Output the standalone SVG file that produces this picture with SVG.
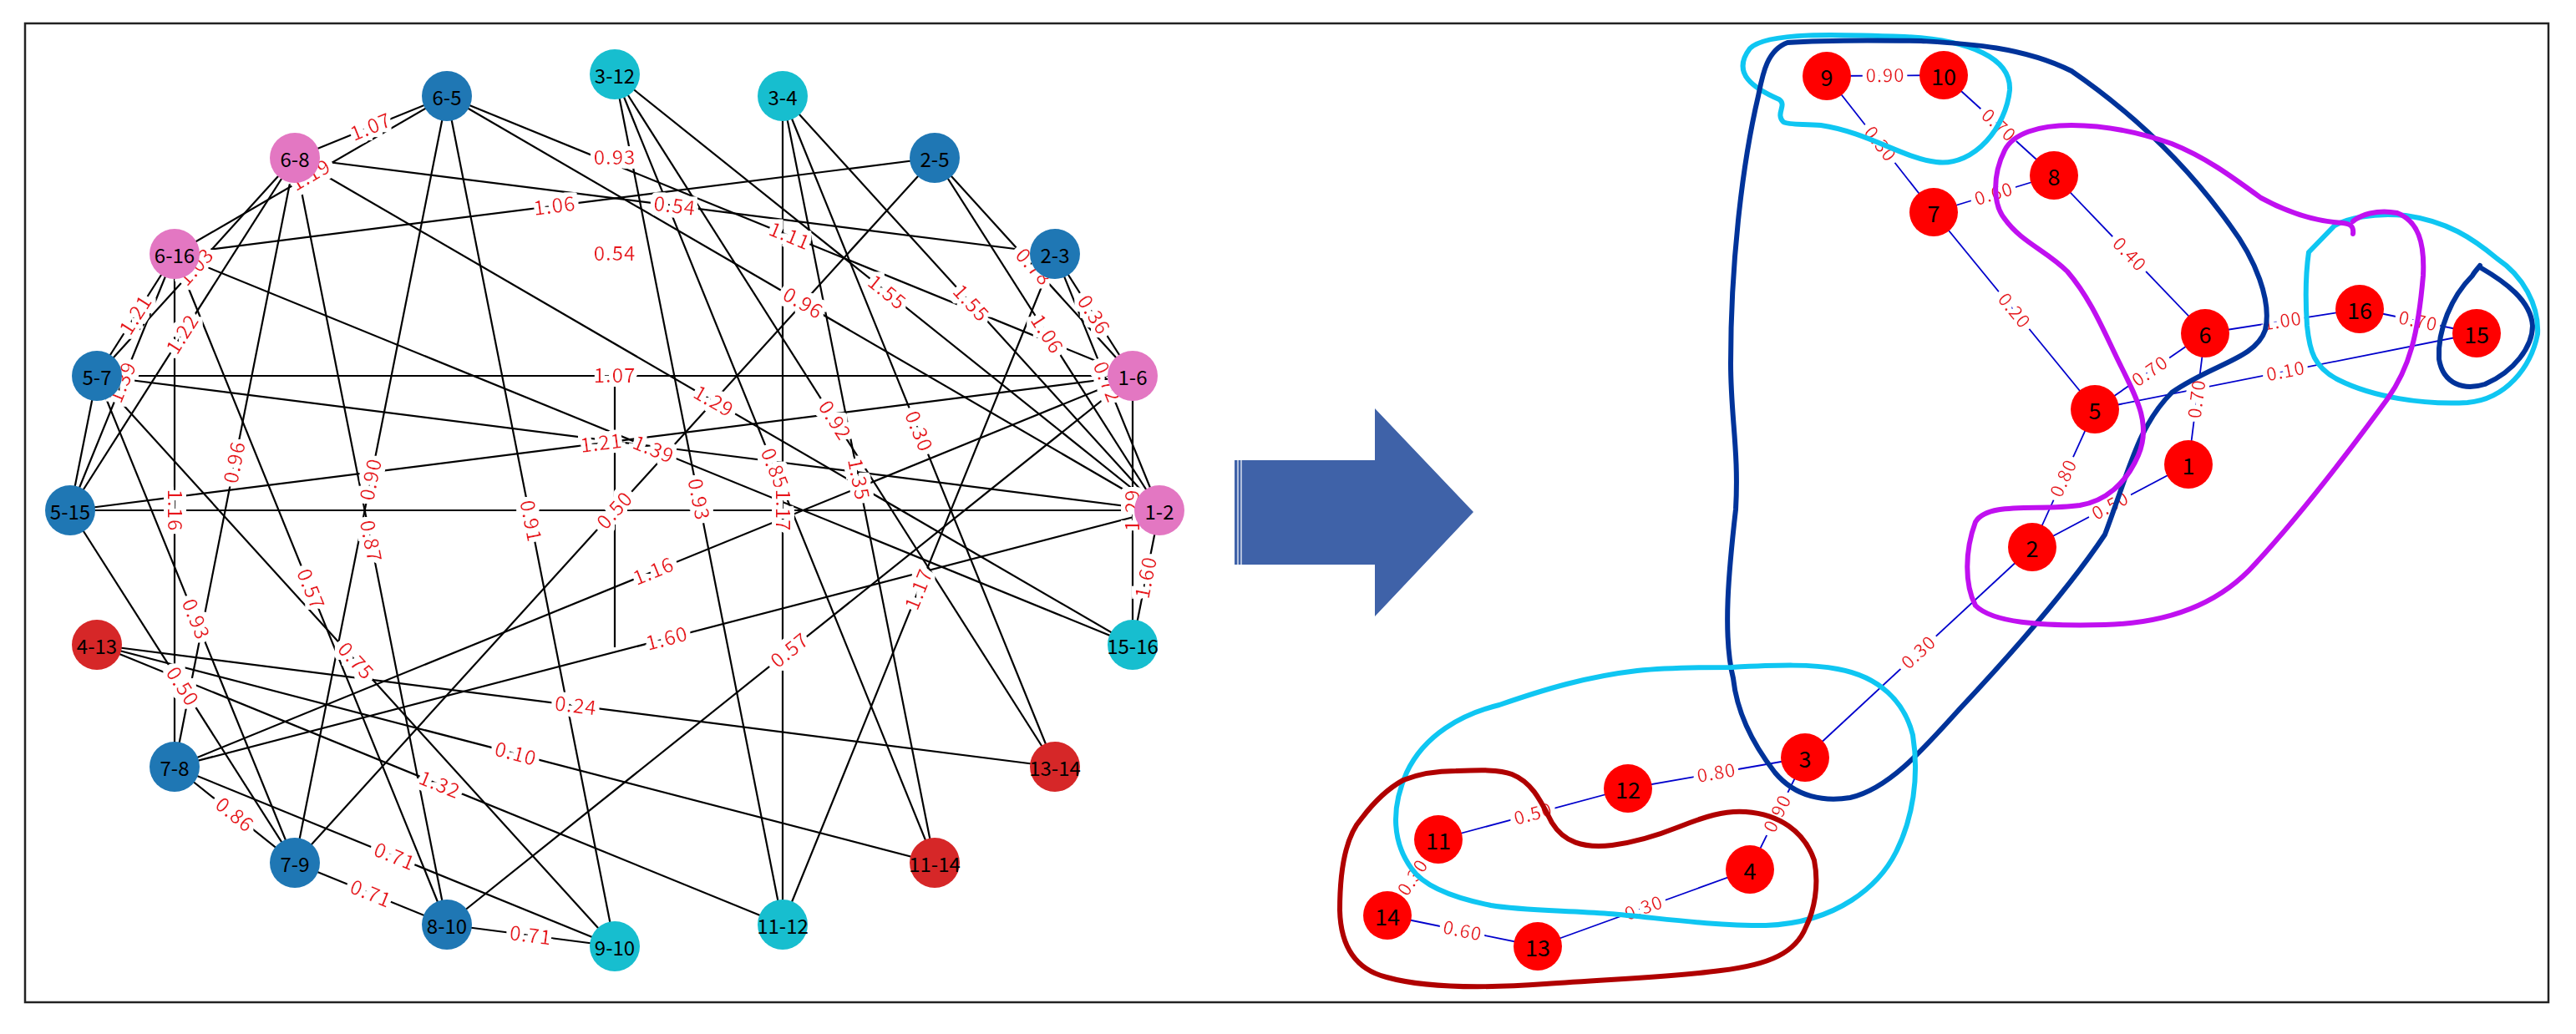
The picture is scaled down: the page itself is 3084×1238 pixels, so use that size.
<svg xmlns="http://www.w3.org/2000/svg" xmlns:xlink="http://www.w3.org/1999/xlink" width="3084" height="1238" viewBox="0 0 3084 1238">
<defs>
<filter id="halo" x="-20%" y="-20%" width="140%" height="140%">
<feMorphology in="SourceAlpha" operator="dilate" radius="5" result="d"/>
<feFlood flood-color="#fff"/>
<feComposite in2="d" operator="in" result="w"/>
<feMerge><feMergeNode in="w"/><feMergeNode in="SourceGraphic"/></feMerge>
</filter>
</defs>
<style>
.e{stroke:#000;stroke-width:2.2;fill:none}
.re{stroke:#0000cc;stroke-width:1.8;fill:none}
.lb{font-family:"Noto Sans CJK SC","DejaVu Sans",sans-serif;font-size:24px;letter-spacing:1px;fill:#e8141c;filter:url(#halo)}
.rl{font-family:"Noto Sans CJK SC","DejaVu Sans",sans-serif;font-size:22px;letter-spacing:1px;fill:#e8141c;filter:url(#halo)}
.nt{font-family:"Noto Sans CJK SC","DejaVu Sans",sans-serif;font-size:24px;fill:#000;text-anchor:middle;dominant-baseline:central}
.rt{font-family:"Noto Sans CJK SC","DejaVu Sans",sans-serif;font-size:27px;fill:#000;text-anchor:middle;dominant-baseline:central}
.bl{fill:#1f77b4}.cy{fill:#17becf}.pk{fill:#e377c2}.rd{fill:#d62728}.rn{fill:#ff0000}
.h{fill:none;stroke-width:6;stroke-linecap:round;stroke-linejoin:round}
</style>
<rect x="0" y="0" width="3084" height="1238" fill="#fff"/>
<rect x="30" y="28" width="3021" height="1172" fill="none" stroke="#222" stroke-width="2.5"/>

<g id="connectors">
<path id="e1" class="e" d="M353 189 L535 115"/>
<path id="e2" class="e" d="M209 304 L535 115"/>
<path id="e3" class="e" d="M209 304 L1119 189"/>
<path id="e4" class="e" d="M116 450 L353 189"/>
<path id="e5" class="e" d="M116 450 L209 304"/>
<path id="e6" class="e" d="M84 611 L353 189"/>
<path id="e7" class="e" d="M84 611 L209 304"/>
<path id="e8" class="e" d="M116 450 L1356 450"/>
<path id="e9" class="e" d="M84 611 L1356 450"/>
<path id="e10" class="e" d="M209 918 L353 189"/>
<path id="e11" class="e" d="M353 1033 L535 115"/>
<path id="e12" class="e" d="M209 304 L209 918"/>
<path id="e13" class="e" d="M535 115 L736 1133"/>
<path id="e14" class="e" d="M353 1033 L1119 189"/>
<path id="e15" class="e" d="M353 189 L1263 304"/>
<path id="e16" class="e" d="M535 115 L1356 450"/>
<path id="e17" class="e" d="M736 89 L1388 611"/>
<path id="e18" class="e" d="M937 115 L1388 611"/>
<path id="e19" class="e" d="M1119 189 L1356 450"/>
<path id="e20" class="e" d="M1263 304 L1356 450"/>
<path id="e21" class="e" d="M1119 189 L1388 611"/>
<path id="e22" class="e" d="M1263 304 L1388 611"/>
<path id="e23" class="e" d="M535 115 L1388 611"/>
<path id="e24" class="e" d="M353 189 L1356 772"/>
<path id="e25" class="e" d="M736 89 L1263 918"/>
<path id="e26" class="e" d="M937 115 L1263 918"/>
<path id="e27" class="e" d="M209 304 L1356 772"/>
<path id="e28" class="e" d="M736 89 L1119 1033"/>
<path id="e29" class="e" d="M937 115 L1119 1033"/>
<path id="e30" class="e" d="M736 89 L937 1107"/>
<path id="e31" class="e" d="M937 115 L937 1107"/>
<path id="e32" class="e" d="M1356 772 L1356 450"/>
<path id="e33" class="e" d="M1356 772 L1388 611"/>
<path id="e34" class="e" d="M353 189 L535 1107"/>
<path id="e35" class="e" d="M209 304 L535 1107"/>
<path id="e36" class="e" d="M116 450 L353 1033"/>
<path id="e37" class="e" d="M116 450 L736 1133"/>
<path id="e38" class="e" d="M84 611 L353 1033"/>
<path id="e39" class="e" d="M209 918 L353 1033"/>
<path id="e40" class="e" d="M209 918 L736 1133"/>
<path id="e41" class="e" d="M353 1033 L535 1107"/>
<path id="e42" class="e" d="M535 1107 L736 1133"/>
<path id="e43" class="e" d="M116 772 L937 1107"/>
<path id="e44" class="e" d="M116 772 L1119 1033"/>
<path id="e45" class="e" d="M116 772 L1263 918"/>
<path id="e46" class="e" d="M209 918 L1356 450"/>
<path id="e47" class="e" d="M209 918 L1388 611"/>
<path id="e48" class="e" d="M535 1107 L1356 450"/>
<path id="e49" class="e" d="M937 1107 L1263 304"/>
<path id="e50" class="e" d="M84 611 L1388 611"/>
<path id="e51" class="e" d="M116 450 L1388 611"/>
<path id="e52" class="e" d="M84 611 L116 450"/>
<path id="e53" class="e" d="M736 451 L736 775"/>

<path id="r1" class="re" d="M2187 91 L2327 90"/>
<path id="r2" class="re" d="M2327 90 L2459 210"/>
<path id="r3" class="re" d="M2187 91 L2315 254"/>
<path id="r4" class="re" d="M2315 254 L2459 210"/>
<path id="r5" class="re" d="M2459 210 L2640 399"/>
<path id="r6" class="re" d="M2315 254 L2508 490"/>
<path id="r7" class="re" d="M2508 490 L2640 399"/>
<path id="r8" class="re" d="M2640 399 L2825 370"/>
<path id="r9" class="re" d="M2825 370 L2965 399"/>
<path id="r10" class="re" d="M2508 490 L2965 399"/>
<path id="r11" class="re" d="M2620 556 L2640 399"/>
<path id="r12" class="re" d="M2433 655 L2620 556"/>
<path id="r13" class="re" d="M2433 655 L2508 490"/>
<path id="r14" class="re" d="M2161 907 L2433 655"/>
<path id="r15" class="re" d="M1949 944 L2161 907"/>
<path id="r16" class="re" d="M1722 1005 L1949 944"/>
<path id="r17" class="re" d="M2095 1041 L2161 907"/>
<path id="r18" class="re" d="M1841 1133 L2095 1041"/>
<path id="r19" class="re" d="M1661 1096 L1841 1133"/>
<path id="r20" class="re" d="M1661 1096 L1722 1005"/>
</g>

<g id="edge-labels">
<text class="lb" dy="0.35em"><textPath href="#e1" startOffset="50%" text-anchor="middle">1.07</textPath></text>
<text class="lb" dy="0.35em"><textPath href="#e2" startOffset="50%" text-anchor="middle">1.19</textPath></text>
<text class="lb" dy="0.35em"><textPath href="#e3" startOffset="50%" text-anchor="middle">1.06</textPath></text>
<text class="lb" dy="0.35em"><textPath href="#e4" startOffset="50%" text-anchor="middle">1.03</textPath></text>
<text class="lb" dy="0.35em"><textPath href="#e5" startOffset="50%" text-anchor="middle">1.21</textPath></text>
<text class="lb" dy="0.35em"><textPath href="#e6" startOffset="50%" text-anchor="middle">1.22</textPath></text>
<text class="lb" dy="0.35em"><textPath href="#e7" startOffset="50%" text-anchor="middle">1.39</textPath></text>
<text class="lb" dy="0.35em"><textPath href="#e8" startOffset="50%" text-anchor="middle">1.07</textPath></text>
<text class="lb" dy="0.35em"><textPath href="#e9" startOffset="50%" text-anchor="middle">1.21</textPath></text>
<text class="lb" dy="0.35em"><textPath href="#e10" startOffset="50%" text-anchor="middle">0.96</textPath></text>
<text class="lb" dy="0.35em"><textPath href="#e11" startOffset="50%" text-anchor="middle">0.90</textPath></text>
<text class="lb" dy="0.35em"><textPath href="#e12" startOffset="50%" text-anchor="middle">1.16</textPath></text>
<text class="lb" dy="0.35em"><textPath href="#e13" startOffset="50%" text-anchor="middle">0.91</textPath></text>
<text class="lb" dy="0.35em"><textPath href="#e15" startOffset="50%" text-anchor="middle">0.54</textPath></text>
<text class="lb" dy="0.35em"><textPath href="#e16" startOffset="50%" text-anchor="middle">1.11</textPath></text>
<text class="lb" dy="0.35em"><textPath href="#e17" startOffset="50%" text-anchor="middle">1.55</textPath></text>
<text class="lb" dy="0.35em"><textPath href="#e18" startOffset="50%" text-anchor="middle">1.55</textPath></text>
<text class="lb" dy="0.35em"><textPath href="#e19" startOffset="50%" text-anchor="middle">0.78</textPath></text>
<text class="lb" dy="0.35em"><textPath href="#e20" startOffset="50%" text-anchor="middle">0.36</textPath></text>
<text class="lb" dy="0.35em"><textPath href="#e21" startOffset="50%" text-anchor="middle">1.06</textPath></text>
<text class="lb" dy="0.35em"><textPath href="#e22" startOffset="50%" text-anchor="middle">0.72</textPath></text>
<text class="lb" dy="0.35em"><textPath href="#e23" startOffset="50%" text-anchor="middle">0.96</textPath></text>
<text class="lb" dy="0.35em"><textPath href="#e24" startOffset="50%" text-anchor="middle">1.29</textPath></text>
<text class="lb" dy="0.35em"><textPath href="#e25" startOffset="50%" text-anchor="middle">0.92</textPath></text>
<text class="lb" dy="0.35em"><textPath href="#e26" startOffset="50%" text-anchor="middle">0.30</textPath></text>
<text class="lb" dy="0.35em"><textPath href="#e27" startOffset="50%" text-anchor="middle">1.39</textPath></text>
<text class="lb" dy="0.35em"><textPath href="#e28" startOffset="50%" text-anchor="middle">0.85</textPath></text>
<text class="lb" dy="0.35em"><textPath href="#e29" startOffset="50%" text-anchor="middle">1.35</textPath></text>
<text class="lb" dy="0.35em"><textPath href="#e30" startOffset="50%" text-anchor="middle">0.93</textPath></text>
<text class="lb" dy="0.35em"><textPath href="#e31" startOffset="50%" text-anchor="middle">1.17</textPath></text>
<text class="lb" dy="0.35em"><textPath href="#e32" startOffset="50%" text-anchor="middle">1.29</textPath></text>
<text class="lb" dy="0.35em"><textPath href="#e33" startOffset="50%" text-anchor="middle">1.60</textPath></text>
<text class="lb" dy="0.35em"><textPath href="#e34" startOffset="50%" text-anchor="middle">0.87</textPath></text>
<text class="lb" dy="0.35em"><textPath href="#e35" startOffset="50%" text-anchor="middle">0.57</textPath></text>
<text class="lb" dy="0.35em"><textPath href="#e36" startOffset="50%" text-anchor="middle">0.93</textPath></text>
<text class="lb" dy="0.35em"><textPath href="#e37" startOffset="50%" text-anchor="middle">0.75</textPath></text>
<text class="lb" dy="0.35em"><textPath href="#e38" startOffset="50%" text-anchor="middle">0.50</textPath></text>
<text class="lb" dy="0.35em"><textPath href="#e39" startOffset="50%" text-anchor="middle">0.86</textPath></text>
<text class="lb" dy="0.35em"><textPath href="#e40" startOffset="50%" text-anchor="middle">0.71</textPath></text>
<text class="lb" dy="0.35em"><textPath href="#e41" startOffset="50%" text-anchor="middle">0.71</textPath></text>
<text class="lb" dy="0.35em"><textPath href="#e42" startOffset="50%" text-anchor="middle">0.71</textPath></text>
<text class="lb" dy="0.35em"><textPath href="#e43" startOffset="50%" text-anchor="middle">1.32</textPath></text>
<text class="lb" dy="0.35em"><textPath href="#e44" startOffset="50%" text-anchor="middle">0.10</textPath></text>
<text class="lb" dy="0.35em"><textPath href="#e45" startOffset="50%" text-anchor="middle">0.24</textPath></text>
<text class="lb" dy="0.35em"><textPath href="#e46" startOffset="50%" text-anchor="middle">1.16</textPath></text>
<text class="lb" dy="0.35em"><textPath href="#e47" startOffset="50%" text-anchor="middle">1.60</textPath></text>
<text class="lb" dy="0.35em"><textPath href="#e48" startOffset="50%" text-anchor="middle">0.57</textPath></text>
<text class="lb" dy="0.35em"><textPath href="#e49" startOffset="50%" text-anchor="middle">1.17</textPath></text>
<text class="lb" dy="0.35em"><textPath href="#e14" startOffset="50%" text-anchor="middle">0.50</textPath></text>
<text class="lb" x="736" y="189" dy="0.35em" text-anchor="middle">0.93</text>
<text class="lb" x="736" y="304" dy="0.35em" text-anchor="middle">0.54</text>

<text class="rl" dy="0.35em"><textPath href="#r1" startOffset="50%" text-anchor="middle">0.90</textPath></text>
<text class="rl" dy="0.35em"><textPath href="#r2" startOffset="50%" text-anchor="middle">0.70</textPath></text>
<text class="rl" dy="0.35em"><textPath href="#r3" startOffset="50%" text-anchor="middle">0.30</textPath></text>
<text class="rl" dy="0.35em"><textPath href="#r4" startOffset="50%" text-anchor="middle">0.60</textPath></text>
<text class="rl" dy="0.35em"><textPath href="#r5" startOffset="50%" text-anchor="middle">0.40</textPath></text>
<text class="rl" dy="0.35em"><textPath href="#r6" startOffset="50%" text-anchor="middle">0.20</textPath></text>
<text class="rl" dy="0.35em"><textPath href="#r7" startOffset="50%" text-anchor="middle">0.70</textPath></text>
<text class="rl" dy="0.35em"><textPath href="#r8" startOffset="50%" text-anchor="middle">1.00</textPath></text>
<text class="rl" dy="0.35em"><textPath href="#r9" startOffset="50%" text-anchor="middle">0.70</textPath></text>
<text class="rl" dy="0.35em"><textPath href="#r10" startOffset="50%" text-anchor="middle">0.10</textPath></text>
<text class="rl" dy="0.35em"><textPath href="#r11" startOffset="50%" text-anchor="middle">0.70</textPath></text>
<text class="rl" dy="0.35em"><textPath href="#r12" startOffset="50%" text-anchor="middle">0.50</textPath></text>
<text class="rl" dy="0.35em"><textPath href="#r13" startOffset="50%" text-anchor="middle">0.80</textPath></text>
<text class="rl" dy="0.35em"><textPath href="#r14" startOffset="50%" text-anchor="middle">0.30</textPath></text>
<text class="rl" dy="0.35em"><textPath href="#r15" startOffset="50%" text-anchor="middle">0.80</textPath></text>
<text class="rl" dy="0.35em"><textPath href="#r16" startOffset="50%" text-anchor="middle">0.50</textPath></text>
<text class="rl" dy="0.35em"><textPath href="#r17" startOffset="50%" text-anchor="middle">0.90</textPath></text>
<text class="rl" dy="0.35em"><textPath href="#r18" startOffset="50%" text-anchor="middle">0.30</textPath></text>
<text class="rl" dy="0.35em"><textPath href="#r19" startOffset="50%" text-anchor="middle">0.60</textPath></text>
<text class="rl" dy="0.35em"><textPath href="#r20" startOffset="50%" text-anchor="middle">0.30</textPath></text>
</g>

<g id="n-1-2"><circle cx="1388" cy="611" r="30" class="pk"/><text x="1388" y="611" class="nt">1-2</text></g>
<g id="n-1-6"><circle cx="1356" cy="450" r="30" class="pk"/><text x="1356" y="450" class="nt">1-6</text></g>
<g id="n-2-3"><circle cx="1263" cy="304" r="30" class="bl"/><text x="1263" y="304" class="nt">2-3</text></g>
<g id="n-2-5"><circle cx="1119" cy="189" r="30" class="bl"/><text x="1119" y="189" class="nt">2-5</text></g>
<g id="n-3-4"><circle cx="937" cy="115" r="30" class="cy"/><text x="937" y="115" class="nt">3-4</text></g>
<g id="n-3-12"><circle cx="736" cy="89" r="30" class="cy"/><text x="736" y="89" class="nt">3-12</text></g>
<g id="n-6-5"><circle cx="535" cy="115" r="30" class="bl"/><text x="535" y="115" class="nt">6-5</text></g>
<g id="n-6-8"><circle cx="353" cy="189" r="30" class="pk"/><text x="353" y="189" class="nt">6-8</text></g>
<g id="n-6-16"><circle cx="209" cy="304" r="30" class="pk"/><text x="209" y="304" class="nt">6-16</text></g>
<g id="n-5-7"><circle cx="116" cy="450" r="30" class="bl"/><text x="116" y="450" class="nt">5-7</text></g>
<g id="n-5-15"><circle cx="84" cy="611" r="30" class="bl"/><text x="84" y="611" class="nt">5-15</text></g>
<g id="n-4-13"><circle cx="116" cy="772" r="30" class="rd"/><text x="116" y="772" class="nt">4-13</text></g>
<g id="n-7-8"><circle cx="209" cy="918" r="30" class="bl"/><text x="209" y="918" class="nt">7-8</text></g>
<g id="n-7-9"><circle cx="353" cy="1033" r="30" class="bl"/><text x="353" y="1033" class="nt">7-9</text></g>
<g id="n-8-10"><circle cx="535" cy="1107" r="30" class="bl"/><text x="535" y="1107" class="nt">8-10</text></g>
<g id="n-9-10"><circle cx="736" cy="1133" r="30" class="cy"/><text x="736" y="1133" class="nt">9-10</text></g>
<g id="n-11-12"><circle cx="937" cy="1107" r="30" class="cy"/><text x="937" y="1107" class="nt">11-12</text></g>
<g id="n-11-14"><circle cx="1119" cy="1033" r="30" class="rd"/><text x="1119" y="1033" class="nt">11-14</text></g>
<g id="n-13-14"><circle cx="1263" cy="918" r="30" class="rd"/><text x="1263" y="918" class="nt">13-14</text></g>
<g id="n-15-16"><circle cx="1356" cy="772" r="30" class="cy"/><text x="1356" y="772" class="nt">15-16</text></g>

<g id="arrow">
<path d="M1478 551 H1646 V489 L1764 613 L1646 738 V676 H1478 Z" fill="#3f62a8"/>
<line x1="1482" y1="551" x2="1482" y2="676" stroke="#fff" stroke-width="1.2"/>
<line x1="1486" y1="551" x2="1486" y2="676" stroke="#fff" stroke-width="1.2"/>
</g>

<g id="r-node-9"><circle cx="2187" cy="91" r="29" class="rn"/><text x="2187" y="91" class="rt">9</text></g>
<g id="r-node-10"><circle cx="2327" cy="90" r="29" class="rn"/><text x="2327" y="90" class="rt">10</text></g>
<g id="r-node-8"><circle cx="2459" cy="210" r="29" class="rn"/><text x="2459" y="210" class="rt">8</text></g>
<g id="r-node-7"><circle cx="2315" cy="254" r="29" class="rn"/><text x="2315" y="254" class="rt">7</text></g>
<g id="r-node-6"><circle cx="2640" cy="399" r="29" class="rn"/><text x="2640" y="399" class="rt">6</text></g>
<g id="r-node-16"><circle cx="2825" cy="370" r="29" class="rn"/><text x="2825" y="370" class="rt">16</text></g>
<g id="r-node-15"><circle cx="2965" cy="399" r="29" class="rn"/><text x="2965" y="399" class="rt">15</text></g>
<g id="r-node-5"><circle cx="2508" cy="490" r="29" class="rn"/><text x="2508" y="490" class="rt">5</text></g>
<g id="r-node-1"><circle cx="2620" cy="556" r="29" class="rn"/><text x="2620" y="556" class="rt">1</text></g>
<g id="r-node-2"><circle cx="2433" cy="655" r="29" class="rn"/><text x="2433" y="655" class="rt">2</text></g>
<g id="r-node-3"><circle cx="2161" cy="907" r="29" class="rn"/><text x="2161" y="907" class="rt">3</text></g>
<g id="r-node-12"><circle cx="1949" cy="944" r="29" class="rn"/><text x="1949" y="944" class="rt">12</text></g>
<g id="r-node-11"><circle cx="1722" cy="1005" r="29" class="rn"/><text x="1722" y="1005" class="rt">11</text></g>
<g id="r-node-4"><circle cx="2095" cy="1041" r="29" class="rn"/><text x="2095" y="1041" class="rt">4</text></g>
<g id="r-node-14"><circle cx="1661" cy="1096" r="29" class="rn"/><text x="1661" y="1096" class="rt">14</text></g>
<g id="r-node-13"><circle cx="1841" cy="1133" r="29" class="rn"/><text x="1841" y="1133" class="rt">13</text></g>

<g id="hulls">
<path class="h" stroke="#0fc6f2" d="M2135 146 C2125 136 2140 126 2130 119 C2100 106 2072 88 2095 58 C2115 38 2200 41 2280 44 C2360 48 2408 70 2406 108 C2402 150 2365 200 2318 194 C2280 190 2235 158 2180 150 C2160 148 2142 150 2135 146 Z"/>
<path class="h" stroke="#00339a" d="M2140 51 C2115 60 2110 90 2105 115 C2085 200 2072 320 2072 435 C2072 500 2082 540 2078 610 C2070 680 2062 760 2075 812 C2078 840 2090 880 2125 925 C2150 955 2185 960 2215 955 C2260 945 2300 900 2345 850 C2420 770 2480 700 2520 640 C2550 560 2560 510 2600 470 C2650 435 2700 430 2712 395 C2720 360 2700 310 2670 270 C2620 200 2560 140 2480 85 C2420 55 2350 52 2300 49 C2240 48 2180 48 2140 51 Z"/>
<path class="h" stroke="#00339a" d="M2969 318 C2966 322 2962 326 2960 330 C2935 355 2918 395 2920 430 C2925 460 2950 468 2975 460 C3010 445 3032 415 3032 390 C3030 360 3000 338 2969 320"/>
<path class="h" stroke="#0fc6f2" d="M2764 302 C2760 330 2760 360 2762 390 C2765 420 2770 440 2800 455 C2840 475 2900 485 2954 482 C3000 478 3030 440 3038 400 C3040 365 3020 330 2990 310 C2960 285 2930 265 2880 258 C2840 254 2810 262 2795 270 Z"/>
<path class="h" stroke="#c010f0" d="M2817 280 C2818 272 2815 268 2805 267 C2770 265 2740 255 2707 237 C2670 210 2640 188 2600 172 C2560 158 2520 150 2480 150 C2440 150 2410 160 2400 180 C2385 210 2386 245 2400 262 C2420 290 2450 300 2475 325 C2505 360 2520 400 2540 440 C2560 480 2575 510 2560 545 C2545 580 2520 600 2490 605 C2440 612 2380 600 2365 625 C2352 660 2352 700 2365 725 C2385 745 2440 750 2520 748 C2600 746 2660 720 2700 675 C2760 610 2820 530 2858 478 C2885 440 2895 400 2901 330 C2903 290 2895 265 2870 255 C2845 250 2825 258 2817 265"/>
<path class="h" stroke="#0fc6f2" d="M2073 799 C2130 796 2170 795 2200 801 C2250 810 2280 840 2290 880 C2298 930 2290 980 2270 1020 C2250 1060 2200 1105 2114 1108 C2040 1108 1980 1098 1926 1094 C1870 1090 1820 1090 1785 1084 C1740 1075 1705 1062 1690 1040 C1668 1010 1664 970 1684 925 C1705 880 1750 855 1795 844 C1850 825 1900 810 1960 803 C2000 799 2040 799 2073 799 Z"/>
<path class="h" stroke="#b00000" d="M1680 934 C1700 926 1720 923 1743 923 C1770 922 1795 921 1810 927 C1835 937 1845 960 1858 985 C1872 1008 1895 1016 1930 1012 C1960 1008 1985 1000 2010 990 C2040 978 2065 970 2090 972 C2130 975 2160 995 2172 1030 C2178 1060 2172 1090 2162 1110 C2150 1140 2120 1155 2060 1162 C2000 1170 1930 1172 1850 1178 C1780 1183 1710 1184 1660 1170 C1620 1160 1605 1130 1604 1090 C1604 1040 1612 1000 1630 980 C1645 960 1660 945 1680 934 Z"/>
</g>
</svg>
